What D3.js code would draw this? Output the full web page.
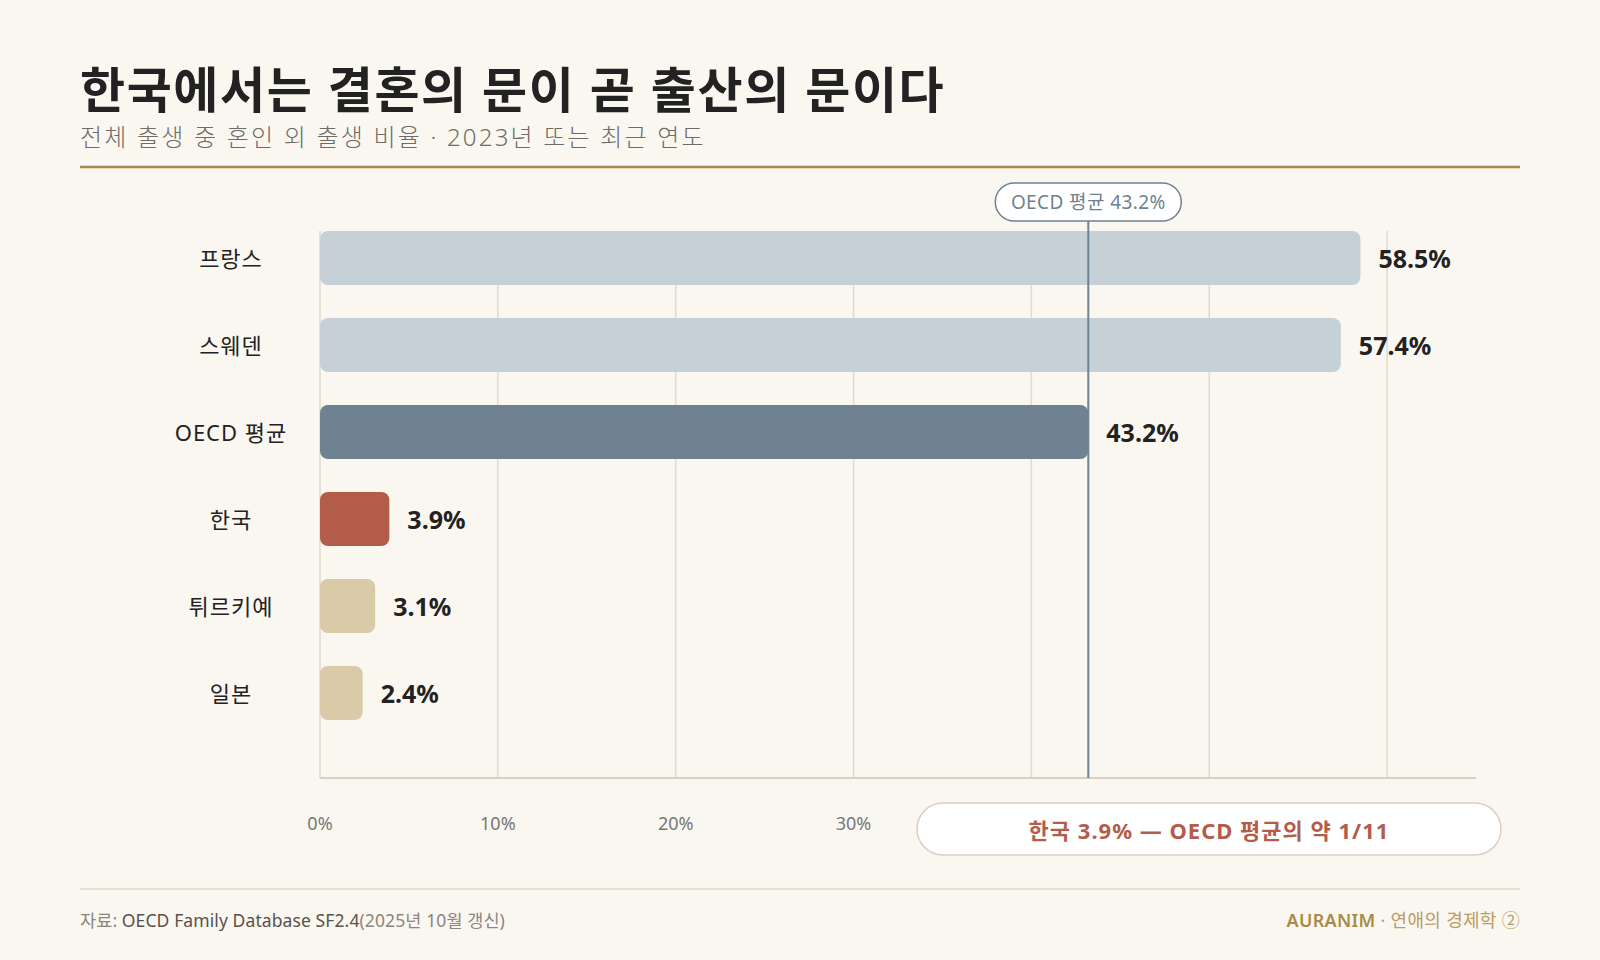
<!DOCTYPE html>
<meta charset="utf-8">
<style>

body {
  margin: 0;
  background: #faf7f0;
}

svg {
  font-family: "Noto Sans", "Noto Sans CJK KR", sans-serif;
}

.grid line {
  stroke: #e0d9cd;
  stroke-width: 1.5;
}

.cat {
  font-size: 22px;
  letter-spacing: 1px;
  fill: #222;
}

.val {
  font-size: 25px;
  font-weight: 700;
  fill: #222;
}

.tick-label {
  font-size: 18px;
  fill: #777;
}

</style>
<svg width="1600" height="960"></svg>
<script src="https://cdn.jsdelivr.net/npm/d3@7"></script>
<script>

// data
var countries = ["프랑스", "스웨덴", "OECD 평균", "한국", "튀르키예", "일본"];
var shares = [58.5, 57.4, 43.2, 3.9, 3.1, 2.4];
var barColors = ["#c5d0d7", "#c5d0d7", "#6e8291", "#b45c4a", "#d9caa8", "#d9caa8"];
var tickValues = [0, 10, 20, 30, 40, 50, 60];
var oecdAverage = 43.2;

var svg = d3.select("svg"),
    width = +svg.attr("width"),
    height = +svg.attr("height");

svg.append("rect")
    .attr("width", width)
    .attr("height", height)
    .attr("fill", "#faf7f0");

// header
svg.append("text")
    .attr("x", 80)
    .attr("y", 108)
    .attr("font-size", 49)
    .attr("font-weight", 700)
    .attr("letter-spacing", 1.6)
    .attr("fill", "#222")
    .text("한국에서는 결혼의 문이 곧 출산의 문이다");

svg.append("text")
    .attr("x", 80)
    .attr("y", 146)
    .attr("font-size", 24)
    .attr("font-weight", 300)
    .attr("letter-spacing", 2.2)
    .attr("fill", "#6f6b67")
    .text("전체 출생 중 혼인 외 출생 비율 · 2023년 또는 최근 연도");

svg.append("line")
    .attr("x1", 80).attr("x2", 1520)
    .attr("y1", 167).attr("y2", 167)
    .attr("stroke", "#a88a4a")
    .attr("stroke-width", 2.5);

// scales
var x = d3.scaleLinear()
    .domain([0, 65])
    .range([320, 1476]);

var y = d3.scaleBand()
    .domain(countries)
    .range([214.5, 736.5])
    .paddingInner(0.38)
    .paddingOuter(0.19);

var axisY = 778;
var calloutX = 917;
var rows = countries.map(function(c, i) {
  return {name: c, value: shares[i], color: barColors[i]};
});

// grid
svg.append("g")
    .attr("class", "grid")
  .selectAll("line")
  .data(tickValues)
  .enter().append("line")
    .attr("x1", function(d) { return x(d); })
    .attr("x2", function(d) { return x(d); })
    .attr("y1", y(countries[0]))
    .attr("y2", axisY);

svg.append("line")
    .attr("x1", x(0)).attr("x2", x(65))
    .attr("y1", axisY).attr("y2", axisY)
    .attr("stroke", "#d8d0c4")
    .attr("stroke-width", 2);

// bars
svg.append("g")
  .selectAll("rect")
  .data(rows)
  .enter().append("rect")
    .attr("x", x(0))
    .attr("y", function(d) { return y(d.name); })
    .attr("width", function(d) { return x(d.value) - x(0); })
    .attr("height", y.bandwidth())
    .attr("rx", 8)
    .attr("fill", function(d) { return d.color; });

svg.append("g")
  .selectAll("text")
  .data(rows)
  .enter().append("text")
    .attr("class", "cat")
    .attr("x", 231)
    .attr("y", function(d) { return y(d.name) + y.bandwidth() / 2; })
    .attr("text-anchor", "middle")
    .attr("dominant-baseline", "central")
    .text(function(d) { return d.name; });

svg.append("g")
  .selectAll("text")
  .data(rows)
  .enter().append("text")
    .attr("class", "val")
    .attr("x", function(d) { return x(d.value) + 18; })
    .attr("y", function(d) { return y(d.name) + y.bandwidth() / 2; })
    .attr("dominant-baseline", "central")
    .text(function(d) { return d.value.toFixed(1) + "%"; });

// tick labels (the ones under the callout box are hidden)
svg.append("g")
  .selectAll("text")
  .data(tickValues.filter(function(d) { return x(d) < calloutX; }))
  .enter().append("text")
    .attr("class", "tick-label")
    .attr("x", function(d) { return x(d); })
    .attr("y", 823)
    .attr("text-anchor", "middle")
    .attr("dominant-baseline", "central")
    .text(function(d) { return d + "%"; });

// OECD average marker
var ax = x(oecdAverage);
svg.append("line")
    .attr("x1", ax).attr("x2", ax)
    .attr("y1", 221).attr("y2", axisY)
    .attr("stroke", "#6e8291")
    .attr("stroke-width", 2);

svg.append("rect")
    .attr("x", ax - 93).attr("y", 183)
    .attr("width", 186).attr("height", 38)
    .attr("rx", 19)
    .attr("fill", "#fff")
    .attr("stroke", "#6e8291")
    .attr("stroke-width", 1.5);

svg.append("text")
    .attr("x", ax)
    .attr("y", 202)
    .attr("text-anchor", "middle")
    .attr("dominant-baseline", "central")
    .attr("font-size", 19)
    .attr("letter-spacing", 0.4)
    .attr("fill", "#6e8291")
    .text("OECD 평균 " + oecdAverage + "%");

// callout
svg.append("rect")
    .attr("x", calloutX).attr("y", 803)
    .attr("width", 584).attr("height", 52)
    .attr("rx", 26)
    .attr("fill", "#fff")
    .attr("stroke", "#d8d0c4")
    .attr("stroke-width", 1.5);

svg.append("text")
    .attr("x", 1209)
    .attr("y", 830)
    .attr("text-anchor", "middle")
    .attr("dominant-baseline", "central")
    .attr("font-size", 22)
    .attr("font-weight", 700)
    .attr("letter-spacing", 1)
    .attr("fill", "#b45c4a")
    .text("한국 " + shares[3] + "% — OECD 평균의 약 1/11");

// footer
svg.append("line")
    .attr("x1", 80).attr("x2", 1520)
    .attr("y1", 889).attr("y2", 889)
    .attr("stroke", "#ddd6ca")
    .attr("stroke-width", 1.5);

var src = svg.append("text")
    .attr("x", 80)
    .attr("y", 920)
    .attr("dominant-baseline", "central")
    .attr("font-size", 17.5)
    .attr("letter-spacing", 0.1)
    .attr("fill", "#8a8580");
src.append("tspan").text("자료: ");
src.append("tspan").attr("fill", "#57524d").text("OECD Family Database SF2.4");
src.append("tspan").text("(2025년 10월 갱신)");

var brand = svg.append("text")
    .attr("x", 1520)
    .attr("y", 920)
    .attr("text-anchor", "end")
    .attr("dominant-baseline", "central")
    .attr("font-size", 18)
    .attr("letter-spacing", 0.3)
    .attr("fill", "#b89c64");
brand.append("tspan").attr("font-weight", 600).attr("fill", "#a88a4a").text("AURANIM");
brand.append("tspan").text(" · 연애의 경제학 ②");

</script>
